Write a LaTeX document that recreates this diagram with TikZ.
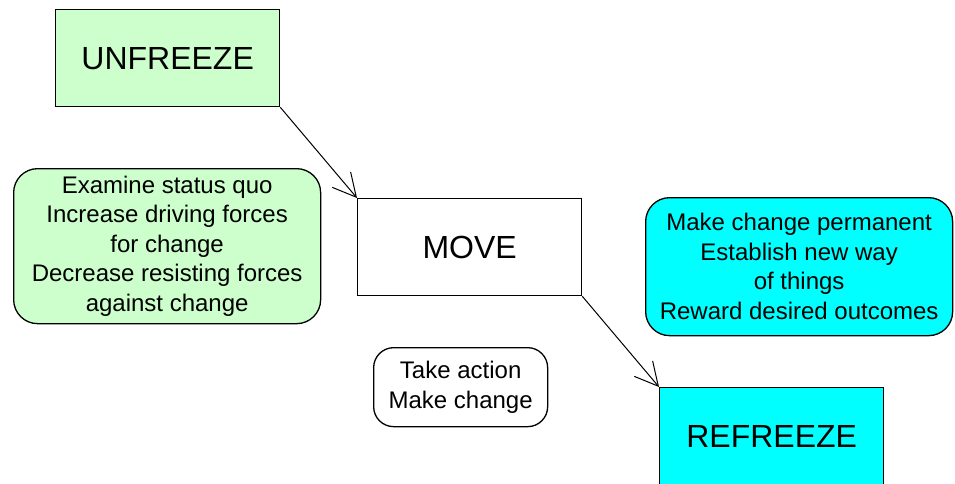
\documentclass[tikz,border=0pt]{standalone}
\usepackage{fontspec}
\setmainfont{Liberation Sans}
\usetikzlibrary{arrows.meta}
\definecolor{lgreen}{HTML}{CCFFCC}
\definecolor{cyanfill}{HTML}{00FFFF}
\tikzset{
  bigbox/.style={draw=black, line width=1.3pt, rectangle, inner sep=0pt, anchor=north west,
    minimum width=224pt, minimum height=97pt, font=\fontsize{32}{36}\selectfont},
  notebox/.style={draw=black, line width=1.3pt, rectangle, rounded corners=24pt, inner sep=0pt,
    anchor=north west, align=center, font=\fontsize{24}{29.5}\selectfont},
  arr/.style={line width=1pt, -{Straight Barb[length=23pt, width=24pt, line width=1pt]}}
}
\begin{document}
\begin{tikzpicture}[x=1pt, y=-1pt]
\path[use as bounding box, clip] (0,0) rectangle (955,483);
\fill[white] (0,0) rectangle (955,483);
\node[bigbox, fill=lgreen] (unfreeze) at (55,9) {UNFREEZE};
\node[bigbox, fill=white] (move) at (357,198) {MOVE};
\node[bigbox, fill=cyanfill] (refreeze) at (659,387) {REFREEZE};
\node[notebox, fill=lgreen, minimum width=307pt, minimum height=155pt] (unnote) at (13,168)
  {Examine status quo\\Increase driving forces\\for change\\Decrease resisting forces\\against change};
\node[notebox, fill=cyanfill, minimum width=307pt, minimum height=138pt] (renote) at (645,197)
  {Make change permanent\\Establish new way\\of things\\Reward desired outcomes};
\node[notebox, fill=white, rounded corners=20pt, minimum width=174pt, minimum height=79pt] (movenote) at (373,347)
  {Take action\\Make change};
\draw[arr] (unfreeze.south east) -- (move.north west);
\draw[arr] (move.south east) -- (refreeze.north west);
\end{tikzpicture}
\end{document}
